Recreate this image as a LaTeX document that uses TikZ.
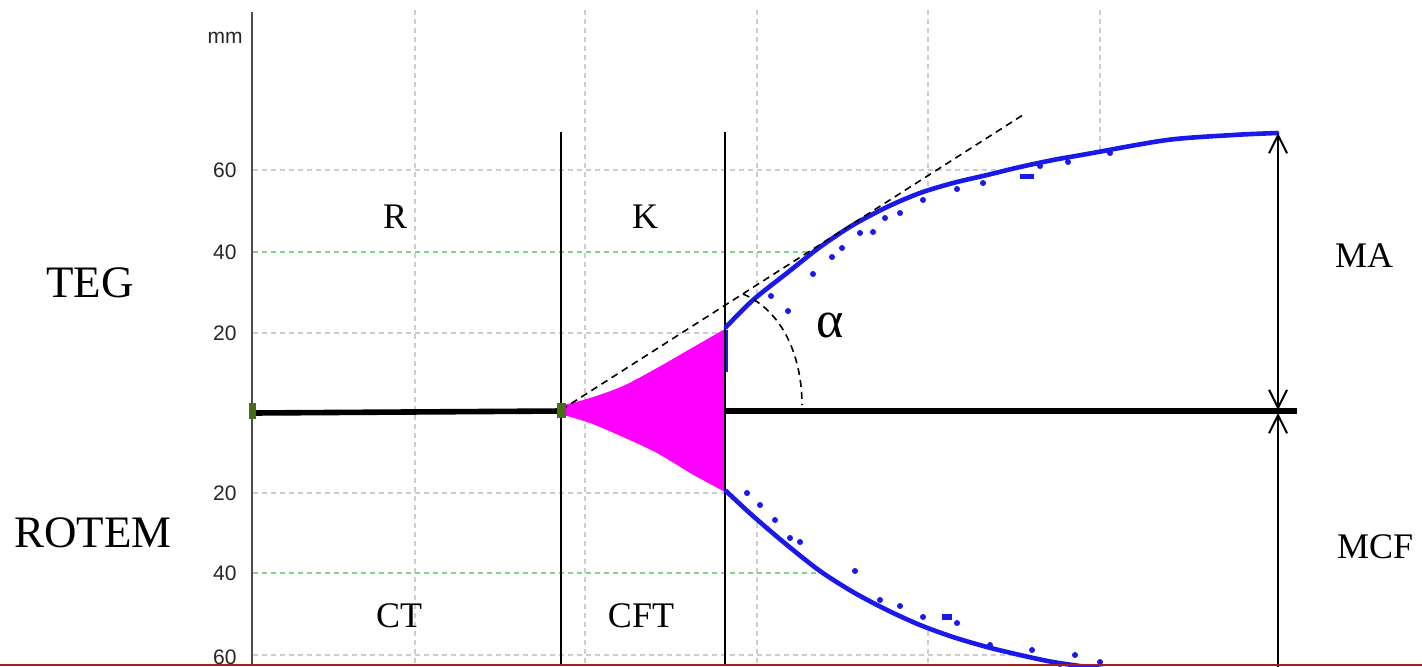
\documentclass[tikz,border=0pt]{standalone}
\usepackage{fontspec}
\setmainfont{Liberation Serif}
\newfontfamily\axisfont{Liberation Sans}
\usetikzlibrary{arrows.meta}
\definecolor{gridgrey}{RGB}{205,205,205}
\definecolor{gridgreenc}{RGB}{125,215,125}
\definecolor{traceblue}{RGB}{25,25,235}
\definecolor{clotpink}{RGB}{255,0,255}
\definecolor{axisgrey}{RGB}{75,75,75}
\definecolor{edgered}{RGB}{165,30,30}
\definecolor{markgreen}{RGB}{70,110,25}
\begin{document}
\begin{tikzpicture}[x=0.5pt,y=-0.5pt,
  gridline/.style={gridgrey, line width=1pt, dash pattern=on 2.5pt off 2pt},
  greenline/.style={gridgreenc, line width=1.2pt, dash pattern=on 2.5pt off 2pt},
  trace/.style={traceblue, line width=2.3pt, line join=round, line cap=round},
  dot/.style={fill=traceblue, draw=none},
  phase/.style={black, line width=1.1pt},
  baseline/.style={black, line width=2.8pt},
  tangent/.style={black, line width=0.8pt, dash pattern=on 3.5pt off 2.5pt},
  dim/.style={black, line width=1pt},
  big/.style={font=\fontsize{22.5}{26}\selectfont, inner sep=0pt},
  mid/.style={font=\fontsize{18}{21}\selectfont, inner sep=0pt},
  tick/.style={font=\axisfont\fontsize{10.5}{12}\selectfont, text=black!85, inner sep=0pt},
  marker/.style={fill=markgreen, draw=none}
]
\useasboundingbox (0,0) rectangle (1422,666);
\clip (0,0) rectangle (1422,666);
\fill[white] (0,0) rectangle (1422,666);

% grid
\foreach \gx in {415,585,757,928,1100}
  \draw[gridline] (\gx,10) -- (\gx,666);
\foreach \gy in {170,333,493,655}
  \draw[gridline] (253,\gy) -- (1250,\gy);
\foreach \gy in {252,573}
  \draw[greenline] (253,\gy) -- (1250,\gy);

% white inside of the tracing
\fill[white] plot[smooth] coordinates {(725,327) (753,300) (787,273) (820,247) (853,225) (887,207) (920,193) (953,183) (987,175) (1020,167) (1053,160) (1087,154) (1167,140) (1233,135) (1277,133)}
  -- (1422,133) -- (1422,690)
  -- plot[smooth] coordinates {(1120,672) (1087,667) (1053,662) (1020,655) (987,647) (953,637) (920,625) (887,610) (853,592) (820,571) (787,545) (753,516) (725,491)} -- cycle;

% pink clot formation region
\fill[clotpink] plot[smooth] coordinates {(560,406) (590,398) (623,386) (657,368) (690,349) (725,329)}
  -- (725,492)
  -- plot[smooth] coordinates {(690,473) (657,453) (623,437) (590,423) (560,414)} -- cycle;

% baseline
\draw[baseline] (252,413) -- (561,411);
\draw[baseline] (725,411) -- (1297,411);

% phase lines
\draw[phase] (561,132) -- (561,666);
\draw[phase] (725,132) -- (725,666);

% left axis
\draw[axisgrey, line width=1.2pt] (252,12) -- (252,666);

% traces
\draw[trace] plot[smooth] coordinates {(726,327) (753,300) (787,273) (820,247) (853,225) (887,207) (920,193) (953,183) (987,175) (1020,167) (1053,160) (1087,154) (1167,140) (1233,135) (1277,133)};
\draw[trace] plot[smooth] coordinates {(726,491) (753,516) (787,545) (820,571) (853,592) (887,610) (920,625) (953,637) (987,647) (1020,655) (1053,662) (1087,667) (1110,670)};
\draw[traceblue, line width=1pt] (727,330) -- (727,372);
\foreach \p in {(813,274),(788,311),(873,232),(860,233),(923,200),(983,183),(957,189),(771,296),(842,248),(900,213),(1068,162),(1110,153),(832,257),(885,218),(1040,166),
  (855,571),(923,617),(957,623),(1100,662),(1075,655),(1032,650),(900,606),(800,542),(747,493),(760,505),(775,520),(1060,664),(790,538),(880,600),(990,645)}
  \fill[dot] \p circle (3);
\fill[dot] (1020,174) rectangle (1034,179);
\fill[dot] (942,614) rectangle (952,620);

% tangent line and angle
\coordinate (v) at (561,410);
\coordinate (t) at (1026,113);
\draw[tangent] (v) -- (t);
\draw[tangent] (743,294) .. controls (785,312) and (802,360) .. (802,405);

% markers
\fill[marker] (249,403) rectangle (256,419);
\fill[marker] (557,403) rectangle (566,418);

% dimension arrows
\coordinate (maTop) at (1278,133);
\coordinate (maBot) at (1278,410);
\coordinate (mcfTop) at (1278,413);
\coordinate (mcfBot) at (1278,670);
\draw[dim, {Straight Barb[length=9pt,width=9pt]}-{Straight Barb[length=9pt,width=9pt]}] (maTop) -- (maBot);
\draw[dim, {Straight Barb[length=9pt,width=9pt]}-] (mcfTop) -- (mcfBot);

% axis labels
\node[tick, anchor=east] (mm) at (243,38) {mm};
\node[tick, anchor=east] (y60a) at (237,170) {60};
\node[tick, anchor=east] (y40a) at (237,252) {40};
\node[tick, anchor=east] (y20a) at (237,333) {20};
\node[tick, anchor=east] (y20b) at (237,493) {20};
\node[tick, anchor=east] (y40b) at (237,573) {40};
\node[tick, anchor=east] (y60b) at (237,657) {60};

% texts
\node[big, anchor=base] (teg) at (90,297) {TEG};
\node[big, anchor=base] (rotem) at (93,547) {ROTEM};
\node[mid, anchor=base] (r) at (395,228) {R};
\node[mid, anchor=base] (k) at (645,228) {K};
\node[mid, anchor=base] (ct) at (399,627) {CT};
\node[mid, anchor=base] (cft) at (641,627) {CFT};
\node[mid, anchor=base] (ma) at (1364,267) {MA};
\node[mid, anchor=base] (mcf) at (1375,558) {MCF};
\node[font=\fontsize{26}{30}\selectfont, inner sep=0pt, anchor=base] (alpha) at (830,337) {α};

% bottom edge
\draw[edgered, line width=1pt] (0,665) -- (1422,665);
\end{tikzpicture}
\end{document}
